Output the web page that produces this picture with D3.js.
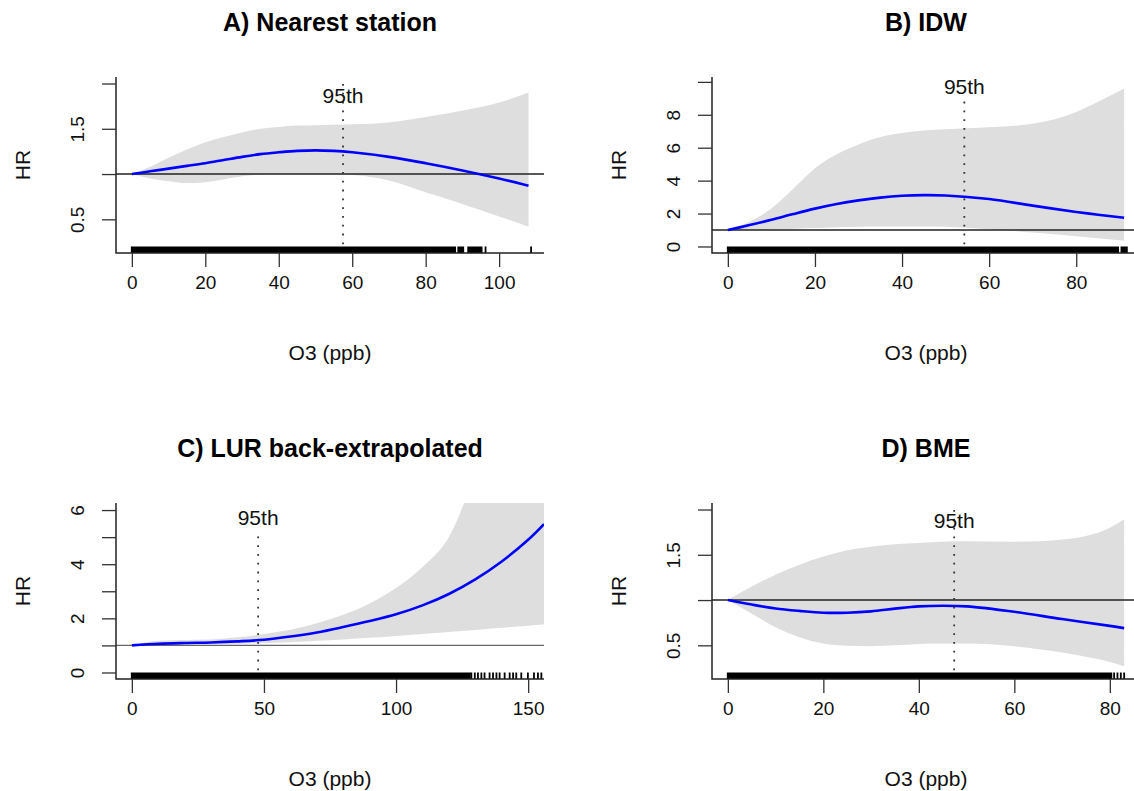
<!DOCTYPE html>
<html lang="en">
<head>
    <meta charset="UTF-8">
    <title>O3 and HR</title>
    <script src="https://cdnjs.cloudflare.com/ajax/libs/d3/7.8.5/d3.min.js"></script>
    <style>
        body {
            margin: 0;
            background: #fff;
        }
        svg {
            display: block;
            font-family: "Liberation Sans", Arial, sans-serif;
        }
        .tick text {
            font-size: 19px;
            fill: #111;
        }
        .tick line {
            stroke: #333;
            stroke-width: 1.3px;
        }
        .frame {
            stroke: #222;
            stroke-width: 1.5px;
        }
        .band {
            fill: #dedede;
        }
        .hr-line {
            fill: none;
            stroke: #0000ff;
            stroke-width: 2.6px;
        }
        .label {
            font-size: 21px;
            fill: #111;
        }
        .title {
            font-size: 25px;
            font-weight: bold;
            fill: #000;
        }
    </style>
</head>
<body>
    <svg width="1134" height="791"></svg>

    <script>
        // panel titles
        const titles = ["A) Nearest station", "B) IDW", "C) LUR back-extrapolated", "D) BME"];

        // A) nearest station
        const nearestO3 = [0, 5, 10, 15, 20, 25, 30, 35, 40, 45, 50, 55, 60, 70, 80, 90, 100, 108];
        const nearestHR = [1.0, 1.03, 1.06, 1.09, 1.12, 1.155, 1.19, 1.22, 1.24, 1.256, 1.262, 1.256, 1.24, 1.19, 1.12, 1.04, 0.95, 0.87];
        const nearestLo = [1.0, 0.95, 0.92, 0.9, 0.91, 0.94, 0.975, 0.995, 1.0, 1.0, 1.0, 1.0, 0.99, 0.93, 0.8, 0.67, 0.53, 0.42];
        const nearestHi = [1.0, 1.08, 1.18, 1.27, 1.35, 1.41, 1.46, 1.5, 1.52, 1.535, 1.54, 1.545, 1.55, 1.57, 1.63, 1.7, 1.79, 1.9];

        // B) IDW
        const idwO3 = [0, 5, 10, 15, 20, 25, 30, 35, 40, 45, 50, 60, 70, 80, 85, 91];
        const idwHR = [1.0, 1.3, 1.62, 1.97, 2.3, 2.58, 2.8, 2.97, 3.08, 3.12, 3.1, 2.88, 2.48, 2.1, 1.93, 1.75];
        const idwLo = [1.0, 1.0, 1.03, 1.08, 1.12, 1.17, 1.2, 1.21, 1.22, 1.22, 1.2, 1.05, 0.85, 0.62, 0.5, 0.35];
        const idwHi = [1.0, 1.5, 2.3, 3.5, 4.75, 5.6, 6.2, 6.65, 6.9, 7.05, 7.12, 7.24, 7.45, 8.17, 8.79, 9.6];

        // C) LUR back-extrapolated
        const lurO3 = [0, 10, 20, 30, 40, 50, 60, 70, 80, 90, 100, 110, 120, 130, 140, 150, 156];
        const lurHR = [1.0, 1.06, 1.09, 1.11, 1.15, 1.21, 1.33, 1.48, 1.68, 1.9, 2.15, 2.48, 2.9, 3.44, 4.1, 4.9, 5.48];
        const lurLo = [1.0, 1.0, 1.02, 1.04, 1.06, 1.09, 1.12, 1.17, 1.22, 1.28, 1.35, 1.42, 1.5, 1.57, 1.65, 1.73, 1.78];
        const lurHi = [1.0, 1.17, 1.2, 1.22, 1.3, 1.42, 1.58, 1.82, 2.13, 2.55, 3.12, 3.9, 5.0, 7.2, 8.8, 10.5, 11.6];

        // D) BME
        const bmeO3 = [0, 5, 10, 15, 20, 25, 30, 35, 40, 45, 50, 60, 70, 80, 83];
        const bmeHR = [1.0, 0.95, 0.907, 0.88, 0.86, 0.86, 0.875, 0.905, 0.93, 0.937, 0.93, 0.87, 0.79, 0.715, 0.69];
        const bmeLo = [1.0, 0.85, 0.7, 0.59, 0.52, 0.495, 0.49, 0.5, 0.515, 0.52, 0.52, 0.49, 0.42, 0.315, 0.27];
        const bmeHi = [1.0, 1.15, 1.28, 1.39, 1.48, 1.55, 1.59, 1.615, 1.63, 1.645, 1.65, 1.645, 1.67, 1.8, 1.89];

        // axis limits (before R's 4% padding)
        const xLimits = [[0, 107.9], [0, 91], [0, 150], [0, 83]];
        const yLimits = [[0.2, 2.0], [0, 9.9], [0, 6.02], [0.2, 2.0]];

        // ticks and tick labels
        const xTicks = [[0, 20, 40, 60, 80, 100], [0, 20, 40, 60, 80], [0, 50, 100, 150], [0, 20, 40, 60, 80]];
        const yTicks = [[0.5, 1.0, 1.5, 2.0], [0, 2, 4, 6, 8, 10], [0, 1, 2, 3, 4, 5, 6], [0.5, 1.0, 1.5, 2.0]];
        const yTickLabels = [
            ["0.5", "", "1.5", ""],
            ["0", "2", "4", "6", "8", ""],
            ["0", "", "2", "", "4", "", "6"],
            ["0.5", "", "1.5", ""]
        ];

        // 95th percentile of exposure, top of its dotted line, height of its label
        const p95 = [57.5, 54.3, 47.8, 47.4];
        const p95LineTop = [2.07, 9.2, 5.2, 2.07];
        const p95LabelY = [1.87, 9.69, 5.74, 1.88];

        // rug of observed exposures: dense ranges and single marks
        const rugSpans = [
            [[0, 88.0], [88.9, 90.2], [91.6, 95.2]],
            [[0, 89.6], [90.4, 91.6]],
            [[0, 127.9]],
            [[0, 80.3]]
        ];
        const rugMarks = [
            [96.3, 108.7],
            [],
            [128.5, 129.8, 131, 132.3, 133.5, 135.4, 136.7, 138, 139.2, 141.1, 143, 144.3, 145.5, 147.4, 149.9, 152.2, 153.7, 155],
            [80.9, 81.6, 82.3, 83.0]
        ];

        const refColor = ["#222", "#222", "#666", "#222"];

        const series = [
            { o3: nearestO3, hr: nearestHR, lo: nearestLo, hi: nearestHi },
            { o3: idwO3, hr: idwHR, lo: idwLo, hi: idwHi },
            { o3: lurO3, hr: lurHR, lo: lurLo, hi: lurHi },
            { o3: bmeO3, hr: bmeHR, lo: bmeLo, hi: bmeHi }
        ];

        const svg = d3.select("svg");
        const plotW = 428, plotH = 176;
        const origins = [[116, 77], [712, 77], [116, 503], [712, 503]];
        const smooth = d3.curveCatmullRom.alpha(0.5);

        function padded(lim) {
            const r = lim[1] - lim[0];
            return [lim[0] - 0.04 * r, lim[1] + 0.04 * r];
        }

        series.forEach((s, i) => {
            const [left, top] = origins[i];
            const bottom = top + plotH, right = left + plotW;

            const x = d3.scaleLinear().domain(padded(xLimits[i])).range([left, right]);
            const y = d3.scaleLinear().domain(padded(yLimits[i])).range([bottom, top]);

            const g = svg.append("g");

            g.append("clipPath").attr("id", "clip" + i)
                .append("rect")
                .attr("x", left).attr("y", top)
                .attr("width", plotW).attr("height", plotH);

            const inner = g.append("g").attr("clip-path", `url(#clip${i})`);
            const pts = s.o3.map((v, k) => ({ o3: v, hr: s.hr[k], lo: s.lo[k], hi: s.hi[k] }));

            // confidence band
            inner.append("path")
                .datum(pts)
                .attr("class", "band")
                .attr("d", d3.area()
                    .curve(d3.curveMonotoneX)
                    .x(d => x(d.o3))
                    .y0(d => y(d.lo))
                    .y1(d => y(d.hi)));

            // reference line HR = 1
            inner.append("line")
                .attr("x1", left).attr("x2", right)
                .attr("y1", y(1)).attr("y2", y(1))
                .attr("stroke", refColor[i])
                .attr("stroke-width", 1.4);

            // fitted curve
            inner.append("path")
                .datum(pts)
                .attr("class", "hr-line")
                .attr("d", d3.line()
                    .curve(smooth)
                    .x(d => x(d.o3))
                    .y(d => y(d.hr)));

            // 95th percentile
            inner.append("line")
                .attr("x1", x(p95[i])).attr("x2", x(p95[i]))
                .attr("y1", bottom).attr("y2", y(p95LineTop[i]))
                .attr("stroke", "#333")
                .attr("stroke-width", 1.8)
                .attr("stroke-dasharray", "1.8,7");

            g.append("text")
                .attr("class", "label")
                .attr("x", x(p95[i]))
                .attr("y", y(p95LabelY[i]))
                .attr("text-anchor", "middle")
                .attr("dominant-baseline", "central")
                .text("95th");

            // rug
            g.selectAll(".rugspan")
                .data(rugSpans[i])
                .enter()
                .append("rect")
                .attr("x", d => x(d[0]) - 1)
                .attr("width", d => x(d[1]) - x(d[0]) + 2)
                .attr("y", bottom - 6.5)
                .attr("height", 6.5)
                .attr("fill", "#000");

            g.selectAll(".rugmark")
                .data(rugMarks[i])
                .enter()
                .append("line")
                .attr("x1", d => x(d)).attr("x2", d => x(d))
                .attr("y1", bottom).attr("y2", bottom - 6.5)
                .attr("stroke", "#000")
                .attr("stroke-width", 1.8);

            // L-shaped frame
            g.append("path")
                .attr("class", "frame")
                .attr("fill", "none")
                .attr("d", `M${left},${top}V${bottom}H${right}`);

            // axes
            const xAxis = g.append("g")
                .attr("transform", `translate(0,${bottom})`)
                .call(d3.axisBottom(x).tickValues(xTicks[i]).tickSize(14).tickSizeOuter(0).tickFormat(d3.format("d")));
            xAxis.select(".domain").remove();
            xAxis.selectAll(".tick text")
                .attr("y", 29)
                .attr("dy", null)
                .attr("dominant-baseline", "central")
                .attr("font-family", null)
                .attr("font-size", null);

            const labels = yTickLabels[i];
            const yAxis = g.append("g")
                .attr("transform", `translate(${left},0)`)
                .call(d3.axisLeft(y).tickValues(yTicks[i]).tickSize(14).tickSizeOuter(0)
                    .tickFormat((d, k) => labels[k]));
            yAxis.select(".domain").remove();
            yAxis.selectAll(".tick text")
                .attr("transform", "rotate(-90)")
                .attr("x", 0)
                .attr("y", -39)
                .attr("dy", null)
                .attr("text-anchor", "middle")
                .attr("dominant-baseline", "central")
                .attr("font-family", null)
                .attr("font-size", null);

            // titles and axis labels
            g.append("text")
                .attr("class", "title")
                .attr("x", left + plotW / 2)
                .attr("y", top - 55)
                .attr("text-anchor", "middle")
                .attr("dominant-baseline", "central")
                .text(titles[i]);

            g.append("text")
                .attr("class", "label")
                .attr("x", left + plotW / 2)
                .attr("y", bottom + 99)
                .attr("text-anchor", "middle")
                .attr("dominant-baseline", "central")
                .text("O3 (ppb)");

            g.append("text")
                .attr("class", "label")
                .attr("transform", `translate(${left - 94},${top + plotH / 2}) rotate(-90)`)
                .attr("text-anchor", "middle")
                .attr("dominant-baseline", "central")
                .text("HR");
        });
    </script>
</body>
</html>
